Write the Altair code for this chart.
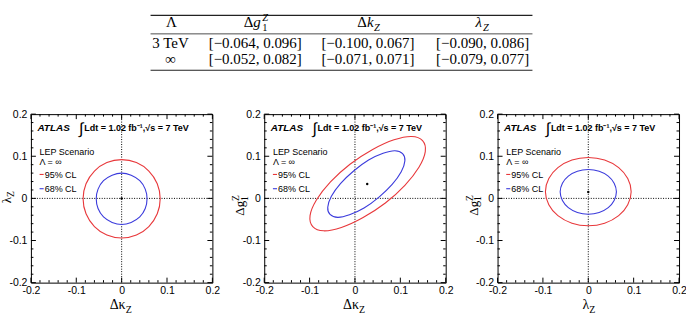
import altair as alt
import pandas as pd

# ---------------- data ----------------
LAMBDA_ROWS = ["3 TeV", "∞"]
DG1Z_LOW = [-0.064, -0.052]
DG1Z_HIGH = [0.096, 0.082]
DKZ_LOW = [-0.100, -0.071]
DKZ_HIGH = [0.067, 0.071]
LZ_LOW = [-0.090, -0.079]
LZ_HIGH = [0.086, 0.077]

# Panel 1: x = Δκ_Z, y = λ_Z
P1_95_X = [0.085, 0.0785, 0.060, 0.0326, 0.0, -0.0326, -0.060, -0.0785, -0.085, -0.0785, -0.060, -0.0326, 0.0, 0.0326, 0.060, 0.0785]
P1_95_Y = [-0.001, 0.0346, 0.0648, 0.0849, 0.092, 0.0849, 0.0648, 0.0346, -0.001, -0.0366, -0.0668, -0.0869, -0.094, -0.0869, -0.0668, -0.0366]
P1_68_X = [0.056, 0.052, 0.040, 0.021, 0.0, -0.021, -0.040, -0.052, -0.056, -0.052, -0.040, -0.021, 0.0, 0.021, 0.040, 0.052]
P1_68_Y = [-0.001, 0.022, 0.042, 0.055, 0.060, 0.055, 0.042, 0.022, -0.001, -0.024, -0.044, -0.057, -0.062, -0.057, -0.044, -0.024]
P1_BEST_X = [0.0]
P1_BEST_Y = [0.0]

# Panel 2: x = Δκ_Z, y = Δg1Z
P2_95_X = [0.149, 0.125, 0.086, 0.039, -0.011, -0.054, -0.085, -0.099, -0.093, -0.069, -0.030, 0.017, 0.067, 0.110, 0.141, 0.155]
P2_95_Y = [0.137, 0.147, 0.139, 0.116, 0.081, 0.039, -0.004, -0.041, -0.067, -0.077, -0.069, -0.046, -0.011, 0.031, 0.074, 0.111]
P2_68_X = [0.105, 0.088, 0.062, 0.030, -0.003, -0.032, -0.052, -0.060, -0.055, -0.038, -0.012, 0.020, 0.053, 0.082, 0.102, 0.110]
P2_68_Y = [0.106, 0.113, 0.107, 0.091, 0.065, 0.035, 0.005, -0.021, -0.038, -0.045, -0.039, -0.023, 0.003, 0.033, 0.063, 0.089]
P2_BEST_X = [0.027]
P2_BEST_Y = [0.034]

# Panel 3: x = λ_Z, y = Δg1Z
P3_95_X = [0.0945, 0.087, 0.067, 0.036, 0.0, -0.036, -0.067, -0.087, -0.0945, -0.087, -0.067, -0.036, 0.0, 0.036, 0.067, 0.087]
P3_95_Y = [0.016, 0.047, 0.073, 0.091, 0.097, 0.091, 0.073, 0.047, 0.016, -0.015, -0.041, -0.059, -0.065, -0.059, -0.041, -0.015]
P3_68_X = [0.062, 0.057, 0.044, 0.024, 0.0, -0.024, -0.044, -0.057, -0.062, -0.057, -0.044, -0.024, 0.0, 0.024, 0.044, 0.057]
P3_68_Y = [0.0155, 0.036, 0.053, 0.0645, 0.0685, 0.0645, 0.053, 0.036, 0.0155, -0.005, -0.022, -0.0335, -0.0375, -0.0335, -0.022, -0.005]
P3_BEST_X = [0.0]
P3_BEST_Y = [0.015]

AXIS_DOMAIN = [-0.2, 0.2]
MAJOR_TICKS = [-0.2, -0.1, 0.0, 0.1, 0.2]
MINOR_TICKS = [-0.18, -0.16, -0.14, -0.12, -0.08, -0.06, -0.04, -0.02,
               0.02, 0.04, 0.06, 0.08, 0.12, 0.14, 0.16, 0.18]
ZERO_LINE = [0.0]
CL_NAMES = ["95% CL", "68% CL"]

# ---------------- styling ----------------
W, H = 182, 169
SANS = "Liberation Sans"
SERIF = "Liberation Serif"
RED = "#e8383b"
BLUE = "#3b3bdc"
ONE = [{"k": 0}]

SCALE = alt.Scale(domain=AXIS_DOMAIN, nice=False, zero=False)
LABEL_EXPR = "datum.value == 0 ? '0' : (datum.value < 0 ? '-' : '') + format(abs(datum.value), '.1f')"


def make_axis(pad):
    return alt.Axis(values=MAJOR_TICKS, labelExpr=LABEL_EXPR, ticks=False, tickSize=0,
                    domain=False, grid=False, title="", labelFont=SANS, labelFontSize=10.5,
                    labelColor="black", labelPadding=pad, labelFlush=False, labelOverlap=False)


XAX = make_axis(3)
YAX = make_axis(4)


def fx(f):
    return alt.X(f, scale=SCALE, axis=XAX)


def fy(f):
    return alt.Y(f, scale=SCALE, axis=YAX)


def txt(s, x, y, size, font=SANS, weight="normal", style="normal", align="left",
        baseline="alphabetic", angle=0, dx=0, dy=0, color="black"):
    m = dict(text=s, font=font, fontSize=size, fontWeight=weight, fontStyle=style,
             align=align, baseline=baseline, color=color)
    if angle:
        m["angle"] = angle
    if dx:
        m["dx"] = dx
    if dy:
        m["dy"] = dy
    return alt.Chart(alt.Data(values=ONE)).mark_text(**m).encode(x=alt.value(x), y=alt.value(y))


def hseg(x1, x2, y, color, width=1.0):
    return alt.Chart(alt.Data(values=ONE)).mark_rule(color=color, strokeWidth=width).encode(
        x=alt.value(x1), x2=alt.value(x2), y=alt.value(y))


def panel(x95, y95, x68, y68, bx, by, xtitle, ytitle):
    df = pd.DataFrame({
        "x": x95 + x68,
        "y": y95 + y68,
        "cl": [CL_NAMES[0]] * len(x95) + [CL_NAMES[1]] * len(x68),
        "i": list(range(len(x95))) + list(range(len(x68))),
    })
    best = pd.DataFrame({"x": bx, "y": by})
    zero = pd.DataFrame({"v": ZERO_LINE})
    layers = [
        alt.Chart(zero).mark_rule(color="black", strokeWidth=1, strokeDash=[1, 1.5]).encode(x=fx("v:Q")),
        alt.Chart(zero).mark_rule(color="black", strokeWidth=1, strokeDash=[1, 1.5]).encode(y=fy("v:Q")),
        alt.Chart(df).mark_line(interpolate="cardinal-closed", strokeWidth=1.1).encode(
            x=fx("x:Q"), y=fy("y:Q"),
            color=alt.Color("cl:N", scale=alt.Scale(domain=CL_NAMES, range=[RED, BLUE]), legend=None),
            order="i:Q"),
        alt.Chart(best).mark_point(filled=True, size=6, color="black", opacity=1).encode(
            x=fx("x:Q"), y=fy("y:Q")),
    ]
    for ticks, L in ((MAJOR_TICKS, 5), (MINOR_TICKS, 2.5)):
        t = pd.DataFrame({"v": ticks})
        base = alt.Chart(t).mark_rule(color="black", strokeWidth=1)
        layers += [
            base.encode(x=fx("v:Q"), y=alt.value(H), y2=alt.value(H - L)),
            base.encode(x=fx("v:Q"), y=alt.value(0), y2=alt.value(L)),
            base.encode(y=fy("v:Q"), x=alt.value(0), x2=alt.value(L)),
            base.encode(y=fy("v:Q"), x=alt.value(W), x2=alt.value(W - L)),
        ]
    # ATLAS label and legend
    layers += [
        txt("ATLAS", 6.5, 16.5, 10, weight="bold", style="italic"),
        txt("∫", 50.5, 19.5, 16, align="center"),
        txt("Ldt = 1.02 fb⁻¹,√s = 7 TeV", 53.5, 16.5, 9, weight="bold"),
        txt("LEP Scenario", 8.7, 40.8, 9),
        txt("Λ = ∞", 8.7, 50.8, 9),
        hseg(8.7, 12.8, 60.5, RED, 1.1),
        txt("95% CL", 13.8, 63.7, 9),
        hseg(8.7, 12.8, 74.8, BLUE, 1.1),
        txt("68% CL", 13.8, 78.0, 9),
    ]
    # x-axis title
    xb, xs, xoff = xtitle
    layers += [
        txt(xb, W / 2 + xoff, 195.5, 14, font=SERIF, align="right"),
        txt(xs, W / 2 + xoff, 195.5, 10, font=SERIF, align="left", dy=3.5),
    ]
    # y-axis title (rotated)
    yb, ysub, ysup, yanchor = ytitle
    layers += [txt(yb, -20, yanchor, 13, font=SERIF, align="right", angle=270)]
    if ysub:
        layers += [txt(ysub, -20, yanchor, 9.5, font=SERIF, align="left", angle=270, dy=3.5)]
    if ysup:
        layers += [txt(ysup, -20, yanchor, 9.5, font=SERIF, align="left", angle=270, dy=-5)]
    return alt.layer(*layers).properties(width=W, height=H)


p1 = panel(P1_95_X, P1_95_Y, P1_68_X, P1_68_Y, P1_BEST_X, P1_BEST_Y,
           ("Δκ", "Z", 4), ("λ", "Z", "", 83))
p2 = panel(P2_95_X, P2_95_Y, P2_68_X, P2_68_Y, P2_BEST_X, P2_BEST_Y,
           ("Δκ", "Z", 4), ("Δg", "1", "Z", 87))
p3 = panel(P3_95_X, P3_95_Y, P3_68_X, P3_68_Y, P3_BEST_X, P3_BEST_Y,
           ("λ", "Z", 1), ("Δg", "1", "Z", 87))

# ---------------- table ----------------
def interval(lo, hi):
    f = lambda v: f"{v:.3f}".replace("-", "−")
    return f"[{f(lo)}, {f(hi)}]"


table_df = pd.DataFrame({
    "row": LAMBDA_ROWS,
    "lam": LAMBDA_ROWS,
    "dg": [interval(a, b) for a, b in zip(DG1Z_LOW, DG1Z_HIGH)],
    "dk": [interval(a, b) for a, b in zip(DKZ_LOW, DKZ_HIGH)],
    "lz": [interval(a, b) for a, b in zip(LZ_LOW, LZ_HIGH)],
})
ROWY = alt.Y("row:N", scale=alt.Scale(domain=LAMBDA_ROWS, range=[46.7, 63.0], padding=0), axis=None)


def tcol(field, xpos):
    return alt.Chart(table_df).mark_text(font=SERIF, fontSize=15, align="center",
                                         baseline="alphabetic", color="black").encode(
        x=alt.value(xpos), y=ROWY, text=f"{field}:N")


table = alt.layer(
    alt.Chart(alt.Data(values=ONE)).mark_rect(color="white").encode(
        x=alt.value(-40), x2=alt.value(-39), y=alt.value(0), y2=alt.value(1)),
    hseg(120, 503, 14, "#222222", 1.2),
    hseg(120, 503, 32.5, "#222222", 0.8),
    hseg(120, 503, 69, "#222222", 1.2),
    txt("Λ", 141, 26, 15, font=SERIF, align="center"),
    txt("Δ", 223, 26, 15, font=SERIF, align="right"),
    txt("g", 223, 26, 15, font=SERIF, style="italic"),
    txt("Z", 232, 20, 10.5, font=SERIF, style="italic"),
    txt("1", 232, 29.5, 10.5, font=SERIF),
    txt("Δ", 337, 26, 15, font=SERIF, align="right"),
    txt("k", 337, 26, 15, font=SERIF, style="italic"),
    txt("Z", 344, 29.5, 10.5, font=SERIF, style="italic"),
    txt("λ", 446, 26, 15, font=SERIF, style="italic"),
    txt("Z", 453.5, 29.5, 10.5, font=SERIF, style="italic"),
    tcol("lam", 140),
    tcol("dg", 225),
    tcol("dk", 338),
    tcol("lz", 453),
).properties(width=650, height=100, view=alt.ViewBackground(stroke="transparent"))

chart = alt.vconcat(
    table,
    alt.hconcat(p1, p2, p3, spacing=52, bounds="flush"),
    spacing=13, bounds="flush",
).properties(
    padding={"left": -10, "top": 0, "right": -1, "bottom": 0}
).configure_view(stroke="black", strokeWidth=1)

chart.save("out.html", embed_options={"renderer": "svg", "actions": False})
